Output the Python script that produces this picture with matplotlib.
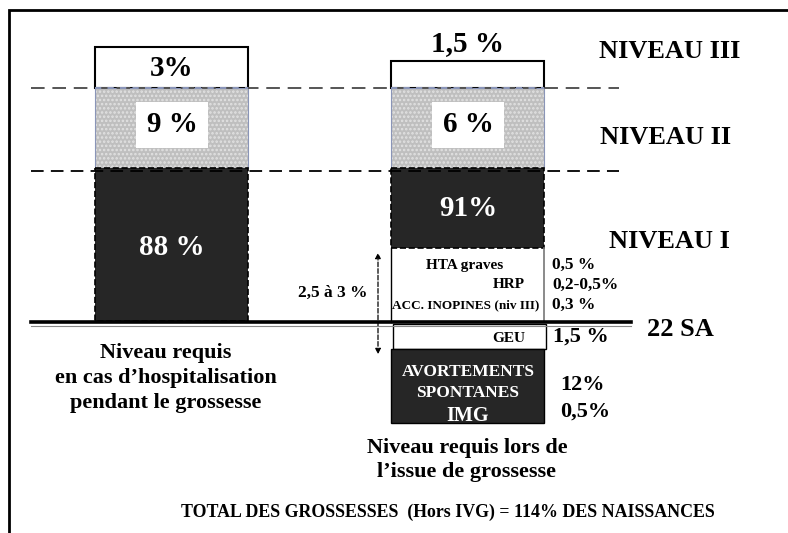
import matplotlib
matplotlib.use("Agg")
import matplotlib.pyplot as plt
from matplotlib.patches import Rectangle, FancyArrowPatch

plt.rcParams['font.family'] = ['Liberation Serif', 'DejaVu Serif']
plt.rcParams['font.weight'] = 'bold'
plt.rcParams['hatch.linewidth'] = 1.2

# --- contenu du schéma ---
niveaux = ['NIVEAU III', 'NIVEAU II', 'NIVEAU I']
hospit_labels = ['3%', '9 %', '88 %']
issue_labels = ['1,5 %', '6 %', '91%']
issue_items = ['HTA graves', 'HRP', 'ACC. INOPINES (niv III)']
issue_vals = ['0,5 %', '0,2-0,5%', '0,3 %']
avant22_item = 'GEU'
avant22_val = '1,5 %'
avort_lines = ['AVORTEMENTS', 'SPONTANES', 'IMG']
avort_vals = ['12%', '0,5%']
arrow_label = '2,5 à 3 %'
titre_gauche = 'Niveau requis\nen cas d\u2019hospitalisation\npendant le grossesse'
titre_droite = 'Niveau requis lors de\nl\u2019issue de grossesse'
total = 'TOTAL DES GROSSESSES  (Hors IVG) = 114% DES NAISSANCES'

# --- mise en page (pixels de l'image) ---
bar_x = [172, 468]
bar_w = 153
left_bounds = [47, 88, 168, 321]     # limites des segments (haut -> bas)
right_bounds = [61, 88, 168, 248]
dark = '#262626'
gray = '#bfbfbf'

fig = plt.figure(figsize=(7.88, 5.33), dpi=100)
ax = fig.add_axes([0, 0, 1, 1])
ax.set_xlim(0, 788)
ax.set_ylim(533, 0)
ax.axis('off')

# cadre
ax.plot([9, 9, 788], [533, 10, 10], color='black', lw=2, solid_joinstyle='miter')

# lignes de niveau pointillées
ax.plot([31, 619], [88, 88], color='#555555', lw=1.4, ls=(0, (7, 4)))
ax.plot([31, 619], [171, 171], color='black', lw=1.3, ls=(0, (7, 4)))


def draw_stack(xc, bounds, labels):
    x0 = xc - bar_w / 2
    # segment blanc (niveau III)
    ax.bar(xc, bounds[1] - bounds[0], bottom=bounds[0], width=bar_w,
           color='white', edgecolor='black', lw=1.5)
    # segment gris (niveau II)
    ax.bar(xc, bounds[2] - bounds[1], bottom=bounds[1], width=bar_w,
           color=gray, edgecolor='#e2e2e2', hatch='....', lw=0)
    ax.add_patch(Rectangle((x0, bounds[1]), bar_w, bounds[2] - bounds[1],
                           fill=False, edgecolor='#8a95b8', lw=0.8))
    ax.plot([x0, x0 + bar_w], [bounds[1], bounds[1]], color='#8a95b8', lw=1.5,
            ls=(0, (3, 3)))
    # segment foncé (niveau I)
    ax.bar(xc, bounds[3] - bounds[2], bottom=bounds[2], width=bar_w,
           color=dark, edgecolor='black', lw=1.2, ls='--')
    # étiquette dans une boîte blanche sur le gris
    ax.add_patch(Rectangle((xc - 36, 102), 72, 46, facecolor='white', lw=0))
    ax.text(xc, 125, labels[1], ha='center', va='center', fontsize=21)
    ax.text(xc, (bounds[2] + bounds[3]) / 2 + (0 if xc > 300 else 3),
            labels[2], ha='center', va='center', fontsize=21, color='white')


draw_stack(bar_x[0], left_bounds, hospit_labels)
draw_stack(bar_x[1], right_bounds, issue_labels)
ax.text(bar_x[0], 68, hospit_labels[0], ha='center', va='center', fontsize=21)
ax.text(bar_x[1], 44, issue_labels[0], ha='center', va='center', fontsize=21)

# niveaux à droite
for name, y, x in zip(niveaux, [52, 138, 241], [670, 666, 669]):
    ax.text(x, y, name, ha='center', va='center', fontsize=19)

# bloc blanc au-dessus de 22 SA (droite)
xr0 = bar_x[1] - bar_w / 2
ax.plot([xr0, xr0], [248, 322], color='black', lw=1)
ax.plot([xr0 + bar_w, xr0 + bar_w], [248, 322], color='#777777', lw=1.2)
item_pos = [(465, 265, 'center', 11), (525, 285, 'right', 11), (466, 305, 'center', 9.5)]
for txt, (x, y, ha, fs) in zip(issue_items, item_pos):
    ax.text(x, y, txt, ha=ha, va='center', fontsize=fs)
for val, y in zip(issue_vals, [265, 285, 305]):
    ax.text(552, y, val, ha='left', va='center', fontsize=12.5)

# ligne des 22 SA
ax.plot([31, 631], [322, 322], color='black', lw=2.6)
ax.plot([31, 631], [325.5, 325.5], color='#888888', lw=0.8)
ax.text(680, 330, '22 SA', ha='center', va='center', fontsize=19)

# GEU
ax.add_patch(Rectangle((393, 324), 153, 25, facecolor='white', edgecolor='black', lw=1))
ax.text(525, 338, avant22_item, ha='right', va='center', fontsize=11)
ax.text(553, 337, avant22_val, ha='left', va='center', fontsize=16)

# avortements
ax.bar(bar_x[1], 74, bottom=349, width=bar_w, color=dark, edgecolor='black', lw=1)
for txt, y, fs in zip(avort_lines, [372, 393, 416], [12.5, 12.5, 14.5]):
    ax.text(bar_x[1], y, txt, ha='center', va='center', fontsize=fs, color='white')
for val, y in zip(avort_vals, [385, 412]):
    ax.text(560, y, val, ha='left', va='center', fontsize=16)

# flèche double
ax.add_patch(FancyArrowPatch((378, 357), (378, 250), arrowstyle='<|-|>',
                             mutation_scale=8, color='black', lw=0.9, ls='--'))
ax.text(368, 293, arrow_label, ha='right', va='center', fontsize=12.5)

# titres
ax.text(166, 378, titre_gauche, ha='center', va='center', fontsize=16,
        linespacing=1.35)
ax.text(467, 460, titre_droite, ha='center', va='center', fontsize=16,
        linespacing=1.3)
ax.text(448, 512, total, ha='center', va='center', fontsize=12.9)

fig.savefig('out.png', dpi=100)
